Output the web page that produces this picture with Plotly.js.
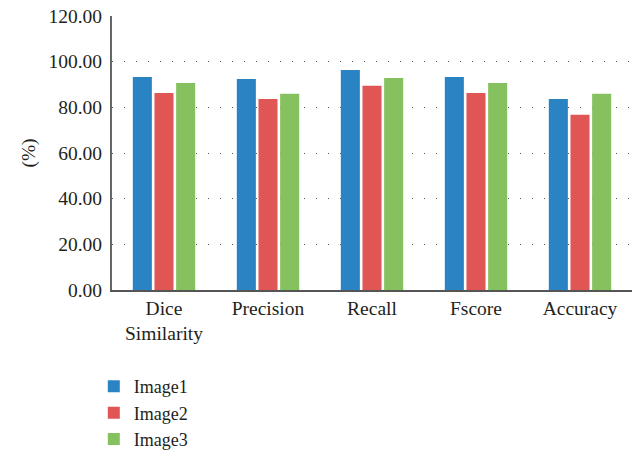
<!DOCTYPE html>
<html>
<head>
<meta charset="utf-8">
<script src="https://cdn.plot.ly/plotly-3.0.1.min.js"></script>
<style>body{margin:0;padding:0;background:#fff}#chart{width:638px;height:451px}</style>
</head>
<body>
<div id="chart"></div>
<script>
var categories = ["Dice<br>Similarity", "Precision", "Recall", "Fscore", "Accuracy"];
var image1 = [93.3, 92.4, 96.4, 93.3, 83.7];
var image2 = [86.3, 83.7, 89.4, 86.3, 76.7];
var image3 = [90.7, 85.9, 92.9, 90.7, 85.9];
var seriesNames = ["Image1", "Image2", "Image3"];
var colors = ["#2a84c4", "#e05654", "#86c160"];
var yTicks = [0, 20, 40, 60, 80, 100, 120];

var font = "Liberation Serif";
var fs = 19.5;
var data = [image1, image2, image3].map(function (v, i) {
  return {
    type: "bar", x: categories, y: v, name: seriesNames[i],
    marker: {color: colors[i]}
  };
});
var layout = {
  width: 638, height: 451,
  margin: {l: 112, r: 6, t: 16, b: 161, autoexpand: false},
  paper_bgcolor: "#fff", plot_bgcolor: "#fff",
  font: {family: font, size: fs, color: "#231f20"},
  barmode: "group", bargap: 0.375, bargroupgap: 0.12,
  showlegend: true,
  legend: {x: -0.035, y: -0.285, xanchor: "left", yanchor: "top",
           orientation: "v", font: {family: font, size: 18, color: "#231f20"},
           itemwidth: 30, tracegroupgap: 0, bgcolor: "rgba(0,0,0,0)"},
  xaxis: {showline: true, linecolor: "#555", linewidth: 1.5, ticks: "",
          tickfont: {family: font, size: fs}, showgrid: false, automargin: false},
  yaxis: {range: [0, 120], tickvals: yTicks, tickformat: ".2f", automargin: false,
          showline: true, linecolor: "#666", linewidth: 2, ticks: "",
          ticklabelstandoff: 4,
          showgrid: true, gridcolor: "#555", gridwidth: 1, griddash: "1px,11px",
          zeroline: false, tickfont: {family: font, size: fs},
          title: {text: "(%)", font: {family: font, size: fs}, standoff: 8}}
};
Plotly.newPlot("chart", data, layout, {displayModeBar: false, staticPlot: true});
</script>
</body>
</html>
